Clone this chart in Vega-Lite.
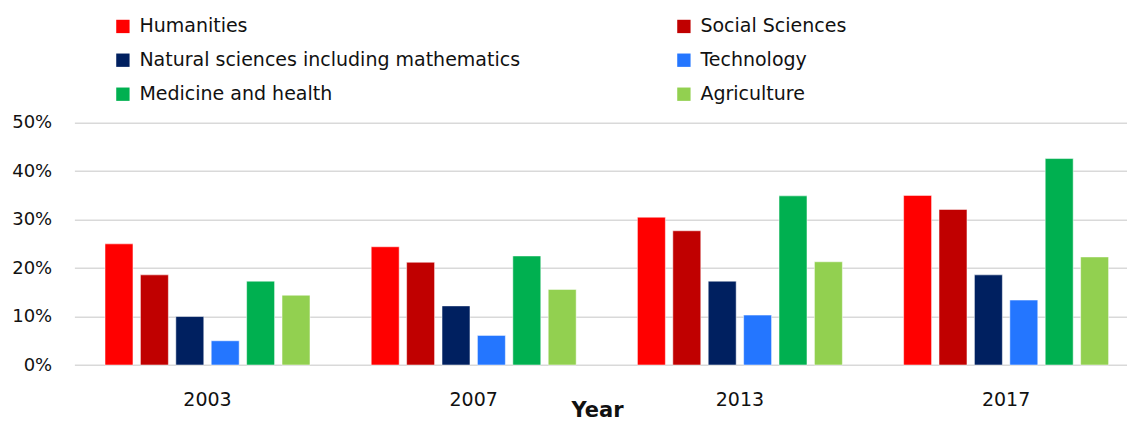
{
  "$schema": "https://vega.github.io/schema/vega-lite/v6.json",
  "autosize": {"type": "none"},
  "width": 1052.6,
  "height": 242.3,
  "padding": {"left": 74.4, "top": 122.7, "right": 0, "bottom": 56},
  "background": "white",
  "data": {"values": [
    {"year": "2003", "field": "Humanities", "share": 0.250},
    {"year": "2003", "field": "Social Sciences", "share": 0.186},
    {"year": "2003", "field": "Natural sciences including mathematics", "share": 0.100},
    {"year": "2003", "field": "Technology", "share": 0.050},
    {"year": "2003", "field": "Medicine and health", "share": 0.173},
    {"year": "2003", "field": "Agriculture", "share": 0.144},
    {"year": "2007", "field": "Humanities", "share": 0.244},
    {"year": "2007", "field": "Social Sciences", "share": 0.212},
    {"year": "2007", "field": "Natural sciences including mathematics", "share": 0.122},
    {"year": "2007", "field": "Technology", "share": 0.061},
    {"year": "2007", "field": "Medicine and health", "share": 0.225},
    {"year": "2007", "field": "Agriculture", "share": 0.156},
    {"year": "2013", "field": "Humanities", "share": 0.305},
    {"year": "2013", "field": "Social Sciences", "share": 0.277},
    {"year": "2013", "field": "Natural sciences including mathematics", "share": 0.173},
    {"year": "2013", "field": "Technology", "share": 0.103},
    {"year": "2013", "field": "Medicine and health", "share": 0.349},
    {"year": "2013", "field": "Agriculture", "share": 0.213},
    {"year": "2017", "field": "Humanities", "share": 0.350},
    {"year": "2017", "field": "Social Sciences", "share": 0.321},
    {"year": "2017", "field": "Natural sciences including mathematics", "share": 0.186},
    {"year": "2017", "field": "Technology", "share": 0.134},
    {"year": "2017", "field": "Medicine and health", "share": 0.426},
    {"year": "2017", "field": "Agriculture", "share": 0.223}
  ]},
  "mark": {"type": "bar", "stroke": "white", "strokeWidth": 1, "strokeOpacity": 0.5},
  "encoding": {
    "x": {
      "field": "year", "type": "nominal",
      "scale": {"range": [0, 1064.8], "paddingInner": 0.23, "paddingOuter": 0.115},
      "axis": {
        "title": "Year", "domain": false, "ticks": false, "labelAngle": 0,
        "labelFont": "DejaVu Sans", "labelFontSize": 19, "labelColor": "#111111",
        "labelPadding": 25,
        "titleFont": "DejaVu Sans", "titleFontSize": 21, "titleFontWeight": "bold", "titleColor": "#111111",
        "titleX": 522.6, "titleY": 51, "titleAlign": "center", "titleBaseline": "alphabetic"
      }
    },
    "xOffset": {
      "field": "field", "type": "nominal",
      "sort": ["Humanities", "Social Sciences", "Natural sciences including mathematics", "Technology", "Medicine and health", "Agriculture"],
      "scale": {"paddingInner": 0.21, "paddingOuter": 0}
    },
    "y": {
      "field": "share", "type": "quantitative",
      "scale": {"domain": [0, 0.5], "nice": false},
      "axis": {
        "title": null, "values": [0, 0.1, 0.2, 0.3, 0.4, 0.5], "format": ".0%",
        "domain": false, "ticks": false, "grid": true,
        "gridColor": "#d9d9d9", "gridWidth": 1.6,
        "labelFont": "DejaVu Sans", "labelFontSize": 18, "labelColor": "#111111",
        "labelPadding": 22.7
      }
    },
    "color": {
      "field": "field", "type": "nominal",
      "scale": {
        "domain": ["Humanities", "Social Sciences", "Natural sciences including mathematics", "Technology", "Medicine and health", "Agriculture"],
        "range": ["#FF0000", "#C00000", "#002060", "#2476FF", "#00B050", "#92D050"]
      },
      "legend": {
        "title": null, "orient": "none", "legendX": 39, "legendY": -106,
        "direction": "horizontal",
        "columns": 2, "columnPadding": 154, "rowPadding": 14, "padding": 0,
        "symbolType": "square", "symbolSize": 178, "symbolStrokeWidth": 0, "symbolOpacity": 1,
        "labelFont": "DejaVu Sans", "labelFontSize": 19, "labelColor": "#111111",
        "labelOffset": 7, "labelLimit": 600
      }
    }
  },
  "config": {"view": {"stroke": null}}
}
